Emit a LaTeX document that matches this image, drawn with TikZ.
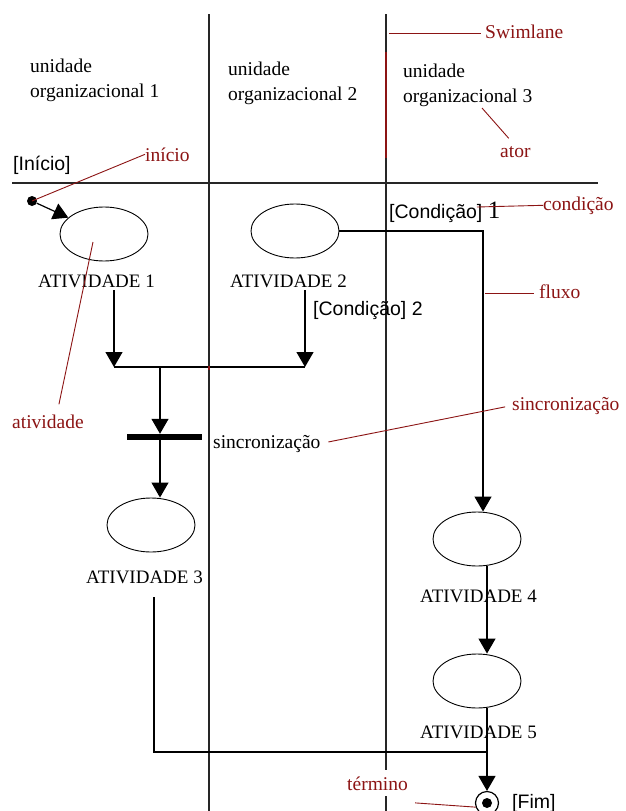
\documentclass[tikz,border=0pt]{standalone}
\usepackage{fontspec}
\setmainfont{Liberation Serif}
\newfontfamily\sansf{Liberation Sans}
\usetikzlibrary{arrows.meta,shapes.geometric,calc}
\definecolor{notered}{RGB}{140,20,20}
\begin{document}
\begin{tikzpicture}[x=1pt,y=-1pt,
  every node/.style={inner sep=0pt},
  lane/.style={line width=1.2pt,black!85},
  flow/.style={line width=1.2pt},
  arr/.style={flow,-{Triangle[width=17pt,length=15pt]}},
  act/.style={draw,ellipse,line width=0.9pt,minimum width=88pt,minimum height=54pt},
  txt/.style={anchor=base west,font=\fontsize{19.5}{23}\selectfont},
  acttxt/.style={anchor=base west,font=\fontsize{19}{23}\selectfont},
  cond/.style={anchor=base west,font=\sansf\fontsize{19.5}{23}\selectfont},
  note/.style={anchor=base west,text=notered,font=\fontsize{19.5}{23}\selectfont},
  leader/.style={draw=notered,line width=0.9pt}
]
\useasboundingbox (0,0) rectangle (626,811);
\fill[white] (0,0) rectangle (626,811);

% swimlanes
\draw[lane] (209,14) -- (209,811);
\draw[lane] (386,14) -- (386,811);
\draw[lane] (12,183) -- (598,183);
\draw[notered,line width=1.2pt] (386,52) -- (386,158);

% lane headers
\node[txt] (u1a) at (30,72) {unidade};
\node[txt] (u1b) at (30,97) {organizacional 1};
\node[txt] (u2a) at (228,75) {unidade};
\node[txt] (u2b) at (228,100) {organizacional 2};
\node[txt] (u3a) at (403,77) {unidade};
\node[txt] (u3b) at (403,102) {organizacional 3};

% start / end
\node[cond] (inicio) at (13,170) {[Início]};
\node[circle,fill,minimum size=10pt] (start) at (32,201) {};
\node[circle,draw,line width=1.2pt,minimum size=23pt] (fim) at (487,803) {};
\node[circle,fill,minimum size=10pt] (fimdot) at (fim.center) {};
\node[cond] (fimlbl) at (512,808) {[Fim]};

% activities
\node[act] (act1) at (104,234) {};
\node[act] (act2) at (295,231) {};
\node[act] (act3) at (151,525) {};
\node[act] (act4) at (477,539) {};
\node[act] (act5) at (477,681) {};
\node[acttxt] (act1lbl) at (38,287) {ATIVIDADE 1};
\node[acttxt] (act2lbl) at (230,287) {ATIVIDADE 2};
\node[acttxt] (act3lbl) at (86,583) {ATIVIDADE 3};
\node[acttxt] (act4lbl) at (420,602) {ATIVIDADE 4};
\node[acttxt] (act5lbl) at (420,738) {ATIVIDADE 5};

% guards
\node[cond] (cond1) at (389,218) {[Condição] {\rmfamily\fontsize{25}{25}\selectfont 1}};
\node[cond] (cond2) at (313,315) {[Condição] 2};

% synchronisation bar
\node[fill,minimum width=75pt,minimum height=6pt] (sync) at (164.5,437) {};
\node[txt] (synclbl) at (213,448) {sincronização};

% flows
\coordinate (a1out) at (114,290);
\coordinate (a2out) at (305,290);
\coordinate (j1) at (114,367);
\coordinate (j2) at (305,367);
\coordinate (jm) at (160,367);
\coordinate (c1) at (483,231);
\coordinate (a3out) at (154,597);
\coordinate (a3bend) at (154,752);

\draw[arr] (start) -- (act1);
\draw[arr] (a1out) -- (j1);
\draw[arr] (a2out) -- (j2);
\draw[flow] (j1) -- (j2);
\draw[notered,line width=1.5pt] (209,366) -- (209,369.5);
\draw[arr] (jm) -- (jm |- sync.north);
\draw[arr] (jm |- sync.south) -- (jm |- act3.north);
\draw[arr] (act2.east) -- (c1) -- (c1 |- act4.north);
\draw[arr] (act4.south -| fim) -- (act5.north -| fim);
\draw[arr] (act5.south -| fim) -- (fim.north);
\draw[flow] (a3out) -- (a3bend) -- (a3bend -| fim);

% annotations
\node[note] (inicionote) at (145,161) {início};
\node[note] (swimnote) at (485,38) {Swimlane};
\node[note] (atornote) at (500,157) {ator};
\node[note] (condnote) at (543,210) {condição};
\node[note] (fluxonote) at (539,298) {fluxo};
\node[note] (atvnote) at (12,428) {atividade};
\node[note] (syncnote) at (512,410) {sincronização};
\node[note,fill=white,inner ysep=6pt] (termnote) at (347,790) {término};

\coordinate (swimpt) at (389,33);
\coordinate (atorpt) at (482,108);
\coordinate (condpt) at (477,207);
\coordinate (fluxopt) at (485,293);
\coordinate (atvpt) at (93,242);

\draw[leader] (inicionote.west) -- (start.center);
\draw[leader,shorten >=4pt] (swimpt) -- (swimpt -| swimnote.west);
\draw[leader,shorten >=10pt] (atorpt) -- (atornote.north);
\draw[leader] (condpt) -- (condnote.west);
\draw[leader,shorten >=5pt] (fluxopt) -- (fluxopt -| fluxonote.west);
\draw[leader] ($(atvnote.north)+(11,-10)$) -- (atvpt);
\draw[leader,shorten <=8pt,shorten >=7pt] (synclbl.east) -- (syncnote.west);
\draw[leader,shorten <=7pt] ([yshift=-6pt]termnote.south east) -- (fim.200);
\end{tikzpicture}
\end{document}
